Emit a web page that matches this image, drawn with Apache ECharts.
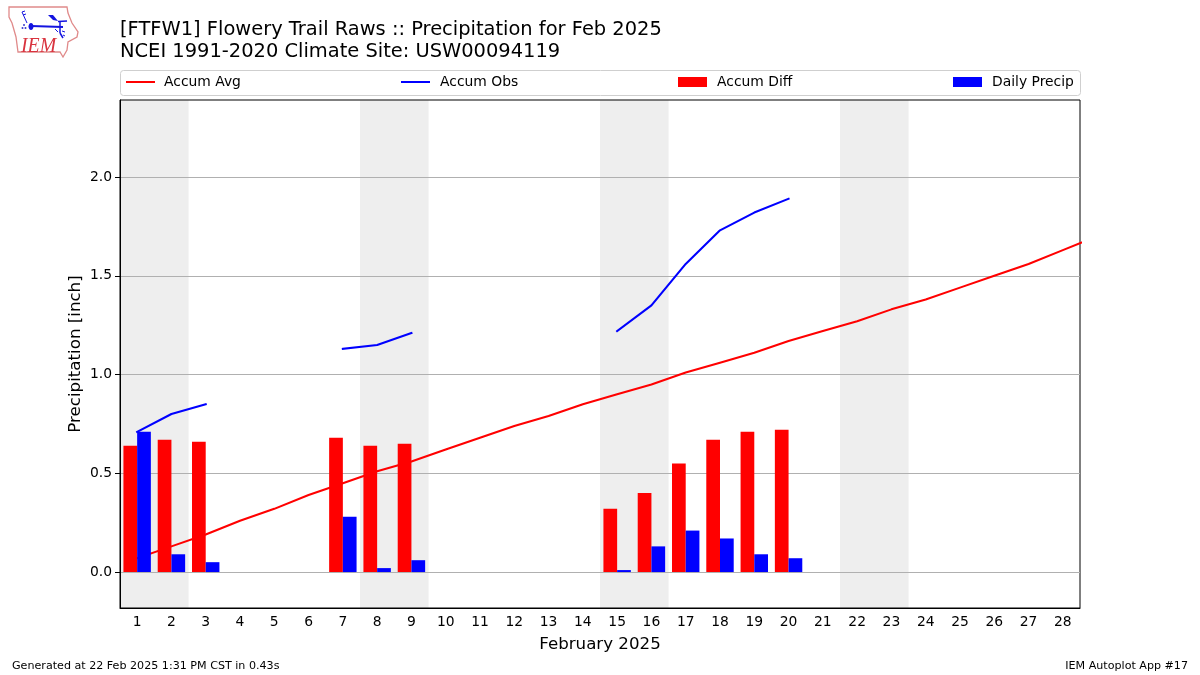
<!DOCTYPE html>
<html><head><meta charset="utf-8">
<style>html,body{margin:0;padding:0;background:#fff}#c{width:1200px;height:675px}</style>
<script src="https://cdn.jsdelivr.net/npm/echarts@6/dist/echarts.min.js"></script>
</head><body><div id="c"></div>
<script>
const days = Array.from({length:28},(_, i)=>String(i+1));
const accumAvg = [0.07,0.13,0.19,0.26,0.32,0.39,0.45,0.51,0.56,0.62,0.68,0.74,0.79,0.85,0.90,0.95,1.01,1.06,1.11,1.17,1.22,1.27,1.33,1.38,1.44,1.50,1.56,1.63,1.70];
const accumObs = [0.71,0.80,0.85,null,null,null,1.13,1.15,1.21,null,null,null,null,null,1.22,1.35,1.56,1.73,1.82,1.89];
const accumDiff = [0.64,0.67,0.66,null,null,null,0.68,0.64,0.65,null,null,null,null,null,0.32,0.40,0.55,0.67,0.71,0.72];
const dailyPrecip = [0.71,0.09,0.05,null,null,null,0.28,0.02,0.06,null,null,null,null,null,0.01,0.13,0.21,0.17,0.09,0.07];
const weekendBands = [[0.5,2.5],[7.5,9.5],[14.5,16.5],[21.5,23.5]];
const yTicks = [0,0.5,1,1.5,2];
const titleLines = "[FTFW1] Flowery Trail Raws :: Precipitation for Feb 2025\nNCEI 1991-2020 Climate Site: USW00094119";
const FONT = '"DejaVu Sans"';
const BLUE = '#1414e0';

const chart = echarts.init(document.getElementById('c'), null, {renderer:'canvas'});
const leg = (name,left,h,pad)=>({data:[{name,icon:'rect'}],left,top:75,orient:'horizontal',itemWidth:29,itemHeight:h,padding:0,
  textStyle:{fontFamily:FONT,fontSize:13.89,color:'#000',padding:[0,0,0,pad]}});
const iowa = [[9,7],[67,7],[68,13],[72,23],[78,32],[77,37],[68,42],[67,50],[63,57],[60,52],[18,52],[16,37],[12,23],[9,17]];
const logoLines = [
  [[31,26],[63,27],2],[[58,21.5],[67,21],1.5],[[60,22],[60,33],1.5],[[60,33],[63,38],1.5],
  [[22,12],[27,23],1],[[22,12],[25,11],1],[[23,15],[26,14],1],[[55,29],[58,32],1],[[62,31],[65,32],1],[[63,35],[65,36],1]
];
chart.setOption({
  animation:false,
  backgroundColor:'#fff',
  title:{text:titleLines,left:120,top:19,padding:0,textStyle:{fontFamily:FONT,fontSize:19.44,fontWeight:'normal',color:'#000',lineHeight:22}},
  legend:[leg('Accum Avg',126,2,4),leg('Accum Obs',401,2,5),leg('Accum Diff',678,10,5),leg('Daily Precip',953,10,5)],
  grid:{left:120,right:120,top:100,bottom:67,show:true,borderColor:'#000',borderWidth:1,backgroundColor:'transparent',containLabel:false},
  xAxis:[
    {type:'category',data:days,boundaryGap:true,name:'February 2025',nameLocation:'middle',nameGap:28,nameMoveOverlap:false,
     nameTextStyle:{fontFamily:FONT,fontSize:16.67,color:'#000'},
     axisLine:{onZero:false,lineStyle:{color:'#000',width:1}},axisTick:{alignWithLabel:true,length:5,lineStyle:{color:'#000'}},
     axisLabel:{interval:0,fontFamily:FONT,fontSize:13.89,color:'#000',margin:7},splitLine:{show:false}},
    {type:'value',min:0.5,max:28.5,show:false,splitLine:{show:false}}
  ],
  yAxis:{type:'value',min:-0.182,max:2.39,name:'Precipitation [inch]',nameLocation:'middle',nameGap:44,nameMoveOverlap:false,
     nameTextStyle:{fontFamily:FONT,fontSize:16.67,color:'#000',verticalAlign:'middle'},
     axisLine:{show:true,onZero:false,lineStyle:{color:'#000'}},
     axisTick:{show:true,length:5,customValues:yTicks,lineStyle:{color:'#000'}},
     axisLabel:{fontFamily:FONT,fontSize:13.89,color:'#000',margin:8,customValues:yTicks,formatter:v=>v.toFixed(1)},
     splitLine:{show:true,lineStyle:{color:'#b0b0b0',width:1.1}}},
  series:[
    {name:'Accum Avg',type:'line',xAxisIndex:1,symbol:'none',z:2,clip:true,
     lineStyle:{color:'#ff0000',width:2.08,cap:'square'},itemStyle:{color:'#ff0000'},
     data:accumAvg.map((v,i)=>[i+1,v]),
     markArea:{silent:true,z:-1,itemStyle:{color:'#eeeeee'},data:weekendBands.map(b=>[{xAxis:b[0]},{xAxis:b[1]}])}},
    {name:'Accum Obs',type:'line',xAxisIndex:1,symbol:'none',z:2,connectNulls:false,
     lineStyle:{color:'#0000ff',width:2.08,cap:'square'},itemStyle:{color:'#0000ff'},
     data:accumObs.map((v,i)=>[i+1,v])},
    {name:'Accum Diff',type:'bar',xAxisIndex:0,barWidth:'40%',barGap:0,z:3,itemStyle:{color:'#ff0000'},data:accumDiff},
    {name:'Daily Precip',type:'bar',xAxisIndex:0,barWidth:'40%',barGap:0,z:3,itemStyle:{color:'#0000ff'},data:dailyPrecip}
  ],
  graphic:[
    {type:'rect',z:-5,shape:{x:120.5,y:70.5,width:960,height:25,r:3},style:{fill:'#fff',stroke:'#cfcfcf',lineWidth:1}},
    {type:'polygon',shape:{points:iowa},style:{fill:'#fff',stroke:'#e08a8a',lineWidth:1.3}},
    {type:'text',x:21,y:35,scaleX:0.9,style:{text:'IEM',fontFamily:'"Liberation Serif"',fontStyle:'italic',fontSize:22,fill:'#d9333f'}},
    {type:'polygon',shape:{points:[[48,15],[53,15],[58,21],[53,20]]},style:{fill:BLUE}},
    {type:'ellipse',shape:{cx:31,cy:26.5,rx:2.5,ry:3.5},style:{fill:BLUE}},
    {type:'circle',shape:{cx:24,cy:25,r:1},style:{fill:'#3a3ad0'}},
    {type:'circle',shape:{cx:22.5,cy:28,r:1},style:{fill:'#3a3ad0'}},
    {type:'circle',shape:{cx:25.5,cy:28,r:1},style:{fill:'#3a3ad0'}},
    ...logoLines.map(l=>({type:'polyline',shape:{points:[l[0],l[1]]},style:{stroke:BLUE,lineWidth:l[2],fill:null}})),
    {type:'text',x:12,y:661,style:{text:'Generated at 22 Feb 2025 1:31 PM CST in 0.43s',fontFamily:FONT,fontSize:11.11,fill:'#000'}},
    {type:'text',x:1188,y:661,style:{text:'IEM Autoplot App #17',fontFamily:FONT,fontSize:11.11,fill:'#000',align:'right'}}
  ]
});
</script></body></html>
